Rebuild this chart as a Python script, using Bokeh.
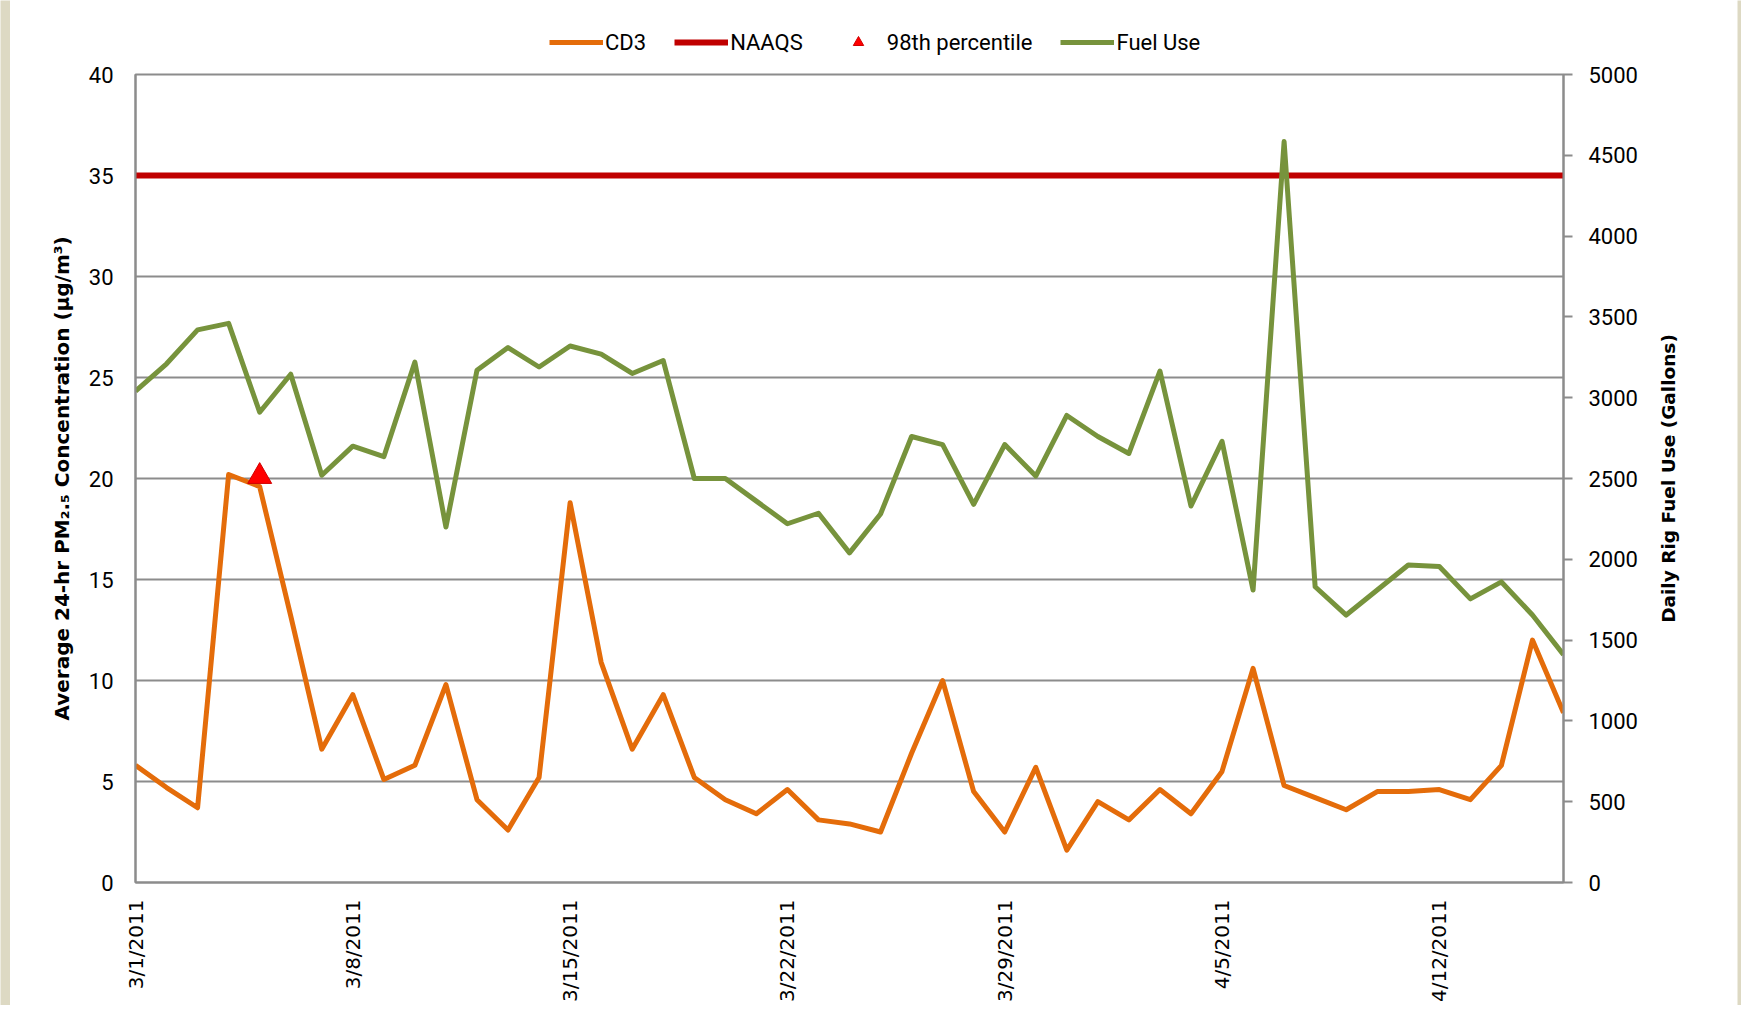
import math
from bokeh.plotting import figure
from bokeh.layouts import row, column
from bokeh.models import Range1d, LinearAxis, FixedTicker, Legend, LegendItem
from bokeh.core.properties import value
from bokeh.embed import file_html
from bokeh.resources import INLINE

# ---------------- data ----------------
dates = ["3/1/2011", "3/2/2011", "3/3/2011", "3/4/2011", "3/5/2011", "3/6/2011", "3/7/2011",
         "3/8/2011", "3/9/2011", "3/10/2011", "3/11/2011", "3/12/2011", "3/13/2011", "3/14/2011",
         "3/15/2011", "3/16/2011", "3/17/2011", "3/18/2011", "3/19/2011", "3/20/2011", "3/21/2011",
         "3/22/2011", "3/23/2011", "3/24/2011", "3/25/2011", "3/26/2011", "3/27/2011", "3/28/2011",
         "3/29/2011", "3/30/2011", "3/31/2011", "4/1/2011", "4/2/2011", "4/3/2011", "4/4/2011",
         "4/5/2011", "4/6/2011", "4/7/2011", "4/8/2011", "4/9/2011", "4/10/2011", "4/11/2011",
         "4/12/2011", "4/13/2011", "4/14/2011", "4/15/2011", "4/16/2011"]

cd3 = [5.8, 4.7, 3.7, 20.2, 19.6, 13.2, 6.6, 9.3, 5.1, 5.8, 9.8, 4.1, 2.6, 5.2, 18.8, 10.9,
       6.6, 9.3, 5.2, 4.1, 3.4, 4.6, 3.1, 2.9, 2.5, 6.4, 10.0, 4.5, 2.5, 5.7, 1.6, 4.0,
       3.1, 4.6, 3.4, 5.5, 10.6, 4.8, 4.2, 3.6, 4.5, 4.5, 4.6, 4.1, 5.8, 12.0, 8.4]

fuel_use = [3040, 3210, 3420, 3460, 2910, 3145, 2520, 2700, 2635, 3220, 2200, 3170, 3310, 3190,
            3320, 3270, 3150, 3230, 2500, 2500, 2360, 2220, 2285, 2040, 2280, 2760, 2710, 2340,
            2710, 2515, 2890, 2760, 2655, 3165, 2330, 2730, 1810, 4585, 1830, 1655, 1810, 1965,
            1955, 1755, 1860, 1655, 1410]

naaqs = 35
p98_date = "3/5/2011"
p98_value = 20.1

tick_labels = ["3/1/2011", "3/8/2011", "3/15/2011", "3/22/2011", "3/29/2011", "4/5/2011", "4/12/2011"]
left_ticks = [0, 5, 10, 15, 20, 25, 30, 35, 40]
right_ticks = [0, 500, 1000, 1500, 2000, 2500, 3000, 3500, 4000, 4500, 5000]

series_names = ["CD3", "NAAQS", "98th percentile", "Fuel Use"]
left_title = "Average 24-hr PM\u2082.\u2085 Concentration (\u00b5g/m\u00b3)"
right_title = "Daily Rig Fuel Use (Gallons)"

# ---------------- styling / layout ----------------
C_CD3, C_NAAQS, C_P98, C_FUEL = "#E46C0A", "#C00000", "#FF0000", "#77933C"
GRID = "#8c8c8c"
BEIGE = "#DDD9C3"
TICKFONT = "Roboto"
PAD_L, PAD_T, PAD_R = 10, 6, 4
W_MAIN, W_SIDE = 1640, 87
H_LEG, H_MAIN = 58, 941
B_LEFT, B_RIGHT, B_TOP, B_BOTTOM = 125, 87, 10, 122

x = list(range(len(dates)))
tick_pos = [dates.index(t) for t in tick_labels]


def strip(w, h):
    s = figure(width=w, height=h, output_backend="svg", toolbar_location=None,
               x_axis_type=None, y_axis_type=None, min_border=0)
    s.outline_line_color = None
    s.grid.visible = False
    s.background_fill_color = BEIGE
    s.border_fill_color = BEIGE
    return s


p = figure(width=W_MAIN, height=H_MAIN, output_backend="svg", toolbar_location=None,
           x_range=Range1d(x[0], x[-1]), y_range=Range1d(left_ticks[0], left_ticks[-1]),
           min_border_left=B_LEFT, min_border_right=B_RIGHT,
           min_border_top=B_TOP, min_border_bottom=B_BOTTOM)
p.outline_line_color = GRID
p.outline_line_width = 2
p.background_fill_color = "white"
p.border_fill_color = "white"
p.extra_y_ranges = {"fuel": Range1d(right_ticks[0], right_ticks[-1])}

# x axis
xa = p.xaxis[0]
xa.ticker = FixedTicker(ticks=tick_pos)
xa.major_label_overrides = {pos: lab for pos, lab in zip(tick_pos, tick_labels)}
xa.major_label_orientation = math.pi / 2
xa.major_label_text_font = "DejaVu Sans"
xa.major_label_text_font_size = "20px"
xa.major_label_text_color = "#000000"
xa.major_label_standoff = 17
xa.major_tick_out = 0
xa.major_tick_in = 0
xa.minor_tick_out = 0
xa.minor_tick_in = 0
xa.axis_line_color = GRID
xa.axis_line_width = 2

# left axis
ya = p.yaxis[0]
ya.ticker = FixedTicker(ticks=left_ticks)
ya.major_label_text_font = TICKFONT
ya.major_label_text_font_size = "22px"
ya.major_label_text_color = "#000000"
ya.major_label_standoff = 22
ya.major_tick_out = 0
ya.major_tick_in = 0
ya.minor_tick_out = 0
ya.minor_tick_in = 0
ya.axis_line_color = GRID
ya.axis_line_width = 2
ya.axis_label = left_title
ya.axis_label_text_font = "DejaVu Sans"
ya.axis_label_text_font_style = "bold"
ya.axis_label_text_font_size = "20px"
ya.axis_label_text_color = "#000000"
ya.axis_label_standoff = 12

# right axis
ra = LinearAxis(y_range_name="fuel", ticker=FixedTicker(ticks=right_ticks))
ra.major_label_text_font = TICKFONT
ra.major_label_text_font_size = "22px"
ra.major_label_text_color = "#000000"
ra.major_label_standoff = 16
ra.major_tick_out = 9
ra.major_tick_in = 0
ra.major_tick_line_color = GRID
ra.major_tick_line_width = 2
ra.minor_tick_out = 0
ra.minor_tick_in = 0
ra.axis_line_color = GRID
ra.axis_line_width = 2
p.add_layout(ra, "right")

p.xgrid.visible = False
p.ygrid.grid_line_color = GRID
p.ygrid.grid_line_width = 2

# series
p.line(x, cd3, line_color=C_CD3, line_width=5, line_join="round")
p.line([x[0], x[-1]], [naaqs, naaqs], line_color=C_NAAQS, line_width=6)
p.scatter([dates.index(p98_date)], [p98_value], marker="triangle", size=24,
          fill_color=C_P98, line_color="#D00000", line_width=1)
p.line(x, fuel_use, y_range_name="fuel", line_color=C_FUEL, line_width=5, line_join="round")

# ---------------- legend strip above the chart ----------------
# (its proxy renderers use the same series, but this small frame's ranges keep them out of view)
lf = figure(width=W_MAIN, height=H_LEG, output_backend="svg", toolbar_location=None,
            x_range=Range1d(0, 1), y_range=Range1d(0, 1), x_axis_type=None, y_axis_type=None,
            min_border_left=B_LEFT, min_border_right=B_RIGHT, min_border_top=0, min_border_bottom=0)
lf.outline_line_color = None
lf.grid.visible = False
lf.border_fill_color = "white"
lf.background_fill_color = "white"
k_cd3 = lf.line(x, cd3, line_color=C_CD3, line_width=5)
k_naaqs = lf.line([x[0], x[-1]], [naaqs, naaqs], line_color=C_NAAQS, line_width=6)
k_p98 = lf.scatter([dates.index(p98_date)], [p98_value], marker="triangle",
                   fill_color=C_P98, line_color="#D00000", line_width=1)
k_fuel = lf.line(x, fuel_use, line_color=C_FUEL, line_width=5)
legend = Legend(items=[LegendItem(label=n, renderers=[r]) for n, r in
                       zip(series_names, [k_cd3, k_naaqs, k_p98, k_fuel])],
                orientation="horizontal", location=(414, 9),
                glyph_width=54, glyph_height=26, label_height=26, label_standoff=2,
                spacing=28, padding=0, margin=0,
                border_line_color=None, background_fill_alpha=0,
                label_text_font=TICKFONT, label_text_font_size="22px",
                label_text_color="#000000")
lf.add_layout(legend)

# ---------------- secondary-axis title (reads bottom-to-top) ----------------
p2 = figure(width=W_SIDE, height=H_MAIN, output_backend="svg", toolbar_location=None,
            x_range=Range1d(0, W_SIDE), y_range=p.y_range,
            x_axis_type=None, y_axis_type=None,
            min_border_left=0, min_border_right=0, min_border_top=B_TOP, min_border_bottom=B_BOTTOM)
p2.outline_line_color = None
p2.grid.visible = False
p2.border_fill_color = "white"
p2.background_fill_color = "white"
p2.text(x=[18], y=[(left_ticks[0] + left_ticks[-1]) / 2], text=[right_title], angle=math.pi / 2,
        text_align="center", text_baseline="middle",
        text_font=value("DejaVu Sans"), text_font_style="bold",
        text_font_size="18.5px", text_color="#000000")

H_TOTAL = PAD_T + H_LEG + H_MAIN
inner = column(strip(W_MAIN + W_SIDE, PAD_T), lf, row(p, p2, spacing=0), spacing=0)
layout = row(strip(PAD_L, H_TOTAL), inner, strip(PAD_R, H_TOTAL), spacing=0)

open("out.html", "w").write(file_html(layout, INLINE))
